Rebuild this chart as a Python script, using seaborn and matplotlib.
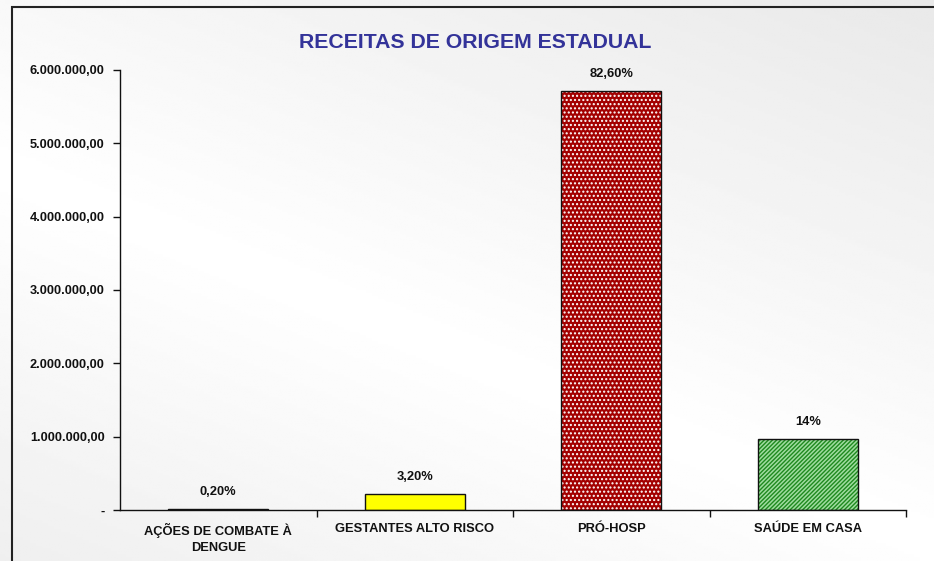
import numpy as np
import pandas as pd
import matplotlib
matplotlib.use("Agg")
import matplotlib.pyplot as plt
from matplotlib.patches import Rectangle
from matplotlib.ticker import FuncFormatter, FixedLocator
import seaborn as sns

# ---------- data ----------
categorias = ["AÇÕES DE COMBATE À\nDENGUE", "GESTANTES ALTO RISCO",
              "PRÓ-HOSP", "SAÚDE EM CASA"]
valores = [14000, 221000, 5715000, 969000]
rotulos = ["0,20%", "3,20%", "82,60%", "14%"]
cores = ["#222222", "#ffff00", "#a30000", "#9fdc9f"]
hatch_cores = ["#222222", "#ffff00", "#ffffff", "#1f8a1f"]
hatches = [None, None, "....", "////////"]

df = pd.DataFrame({"cat": categorias, "valor": valores})

sns.set_theme(style="white")
plt.rcParams["font.family"] = ["Liberation Sans", "DejaVu Sans"]
plt.rcParams["hatch.linewidth"] = 1.0

fig = plt.figure(figsize=(9.34, 5.61), dpi=100)

# background gradient
bg = fig.add_axes([0, 0, 1, 1], zorder=-10)
yy, xx = np.mgrid[0:1:200j, 0:1:300j]
grad = np.abs((xx - 0.3) * 0.6 - (yy - 0.5) * 0.9)
grad = 1.0 - 0.10 * np.clip(grad, 0, 1)
bg.imshow(grad, cmap="gray", vmin=0, vmax=1, aspect="auto",
          extent=[0, 1, 0, 1], origin="upper")
bg.set_axis_off()
fig.patches.append(Rectangle((12 / 934, -0.1), 1.2, 1.1 - 7 / 561,
                             transform=fig.transFigure, fill=False,
                             edgecolor="#222222", linewidth=1.5))

ax = fig.add_axes([120 / 934, 1 - 510 / 561, (906 - 120) / 934, 440 / 561])
ax.patch.set_alpha(0)

# fill + hatch pass, then outline pass
sns.barplot(data=df, x="cat", y="valor", hue="cat", palette=cores,
            legend=False, width=0.51, linewidth=0, saturation=1, ax=ax)
for bar, hc, h in zip(ax.patches, hatch_cores, hatches):
    bar.set_edgecolor(hc)
    if h:
        bar.set_hatch(h)
sns.barplot(data=df, x="cat", y="valor", fill=False, color="#111111",
            width=0.51, linewidth=1.0, ax=ax)

ax.bar_label(ax.containers[-1], labels=rotulos, padding=8,
             fontsize=9.3, fontweight="bold", color="#111111")

ax.set_ylim(0, 6000000)
ax.set_xlim(-0.5, 3.5)
ax.set_yticks(np.arange(0, 6000001, 1000000))
ax.yaxis.set_major_formatter(FuncFormatter(
    lambda v, p: "-" if v == 0 else
    f"{v:,.2f}".replace(",", "X").replace(".", ",").replace("X", ".")))
ax.set_xlabel("")
ax.set_ylabel("")
ax.tick_params(axis="y", left=True, length=5, width=1, color="#111111",
               labelsize=9.2, pad=6)
ax.tick_params(axis="x", length=0, labelsize=9.3, pad=9)
ax.xaxis.set_minor_locator(FixedLocator([0.5, 1.5, 2.5, 3.5]))
ax.tick_params(axis="x", which="minor", bottom=True, length=5, width=1,
               color="#111111")
for lab in ax.get_xticklabels() + ax.get_yticklabels():
    lab.set_fontweight("bold")
    lab.set_color("#111111")
    lab.set_linespacing(1.45)
sns.despine(ax=ax)
for s in ["left", "bottom"]:
    ax.spines[s].set_color("#111111")
    ax.spines[s].set_linewidth(1.0)

fig.text(475 / 934, 1 - 42 / 561, "RECEITAS DE ORIGEM ESTADUAL",
         ha="center", va="center", fontsize=15.3, fontweight="bold",
         color="#333399")

fig.savefig("out.png", dpi=100)
